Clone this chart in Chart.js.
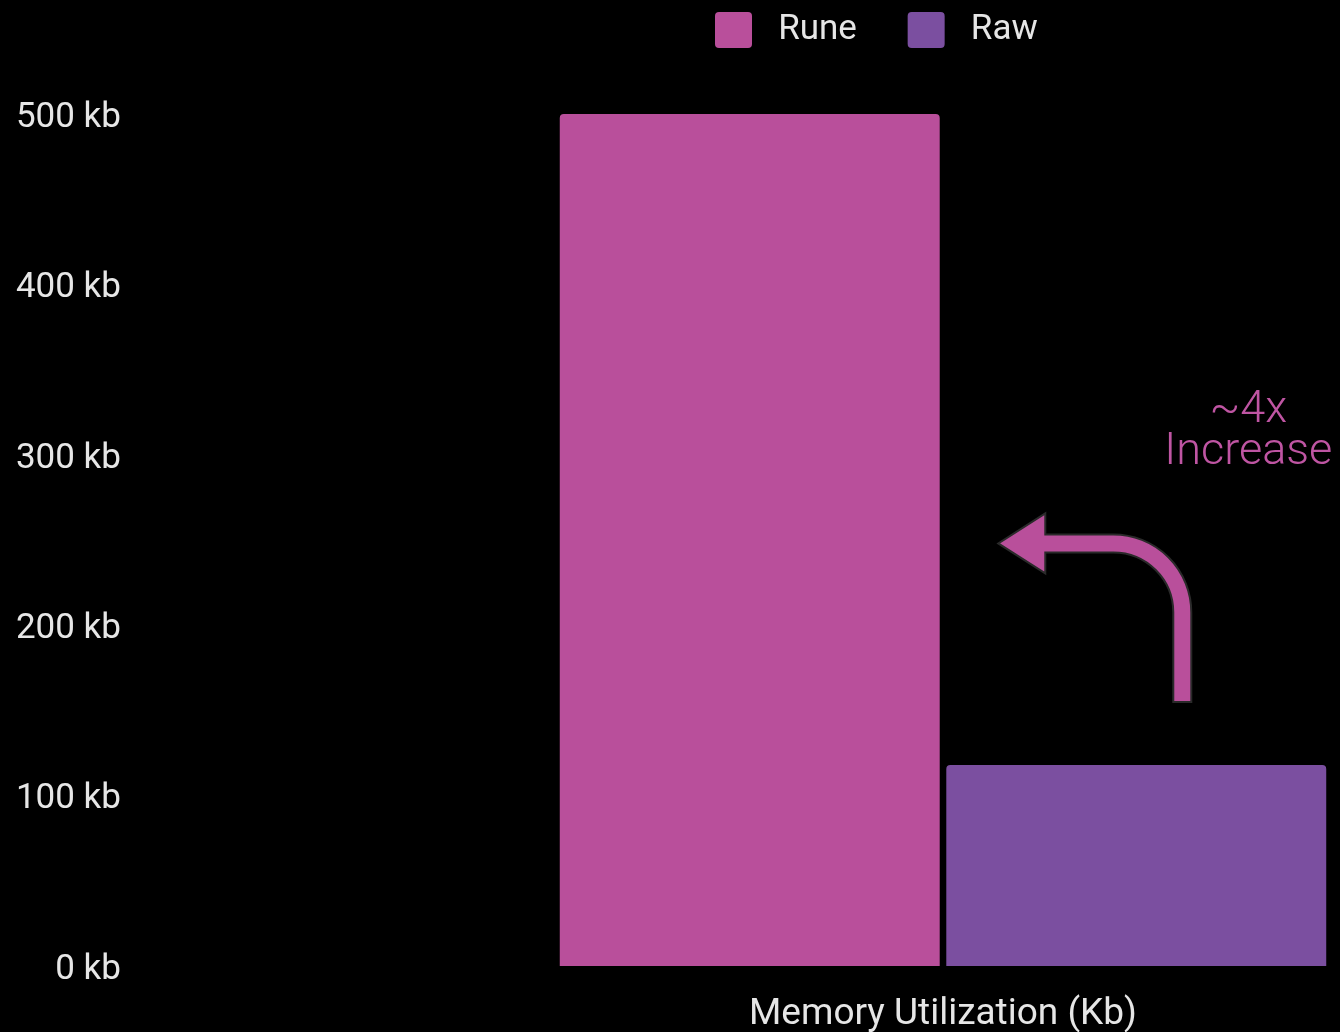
<!DOCTYPE html>
<html>
<head>
<meta charset="utf-8">
<title>Memory Utilization</title>
<script src="https://cdn.jsdelivr.net/npm/chart.js@4/dist/chart.umd.min.js"></script>
<style>
  html, body { margin: 0; padding: 0; background: #000; }
  canvas { display: block; }
</style>
</head>
<body>
<canvas id="memChart" width="1340" height="1032"></canvas>
<script>
// chart data
const categories = ['Memory Utilization (Kb)'];
const seriesNames = ['Rune', 'Raw'];
const runeValues = [500];
const rawValues = [118];
const yTicks = [0, 100, 200, 300, 400, 500];
const noteLines = ['~4x', 'Increase'];

const PINK = '#b94f9b';
const PURPLE = '#7b4fa0';
const TEXT = '#e6e6e6';

// curved "increase" arrow plus caption, placed next to the Raw bar
const arrowNote = {
    id: 'arrowNote',
    afterDatasetsDraw(chart) {
        const ctx = chart.ctx;
        const bar = chart.getDatasetMeta(1).data[0];
        const y = chart.scales.y;
        const left = bar.x - bar.width / 2;

        const sx = left + 236;      // vertical shaft
        const cx = left + 167;      // centre of the bend
        const yBase = y.getPixelForValue(155);
        const yTop = y.getPixelForValue(248);
        const r = sx - cx;
        const half = 9;
        const headX = left + 99;
        const tipX = left + 52;
        const headHalf = 30;

        ctx.save();
        ctx.beginPath();
        ctx.moveTo(sx + half, yBase);
        ctx.lineTo(sx + half, yTop + r);
        ctx.arc(cx, yTop + r, r + half, 0, -Math.PI / 2, true);
        ctx.lineTo(headX, yTop - half);
        ctx.lineTo(headX, yTop - headHalf);
        ctx.lineTo(tipX, yTop);
        ctx.lineTo(headX, yTop + headHalf);
        ctx.lineTo(headX, yTop + half);
        ctx.lineTo(cx, yTop + half);
        ctx.arc(cx, yTop + r, r - half, -Math.PI / 2, 0, false);
        ctx.lineTo(sx - half, yBase);
        ctx.closePath();
        ctx.fillStyle = PINK;
        ctx.fill();
        ctx.lineWidth = 2;
        ctx.strokeStyle = '#2a2a2a';
        ctx.stroke();

        ctx.fillStyle = '#bf55a3';
        ctx.font = '300 45px Roboto';
        ctx.textAlign = 'center';
        ctx.textBaseline = 'middle';
        const tx = left + 302;
        ctx.fillText(noteLines[0], tx, y.getPixelForValue(326));
        ctx.fillText(noteLines[1], tx, y.getPixelForValue(301));
        ctx.restore();
    }
};

// legend row sits at the very top, starting a little right of the plot's left edge
const legendShift = {
    id: 'legendShift',
    afterLayout(chart) {
        const lg = chart.legend;
        const pad = lg.options.labels.padding;
        const start = (lg.left + pad + lg.right - lg.lineWidths[0]) / 2;
        const dx = chart.chartArea.left + 169 - start;
        const dy = 12 - pad - lg.top;
        lg.left += dx;
        lg.right += dx;
        lg.top += dy;
        lg.bottom += dy;
    }
};

const ctx = document.getElementById('memChart').getContext('2d');
new Chart(ctx, {
    type: 'bar',
    data: {
        labels: categories,
        datasets: [
            { label: seriesNames[0], data: runeValues, backgroundColor: PINK },
            { label: seriesNames[1], data: rawValues, backgroundColor: PURPLE }
        ]
    },
    options: {
        responsive: false,
        animation: false,
        layout: { padding: 0 },
        datasets: {
            bar: {
                borderRadius: 4,
                borderWidth: 0,
                barPercentage: 0.983,
                categoryPercentage: 0.9736
            }
        },
        plugins: {
            tooltip: { enabled: false },
            legend: {
                position: 'top',
                labels: {
                    color: TEXT,
                    font: { family: 'Roboto', size: 35 },
                    boxWidth: 37,
                    boxHeight: 36,
                    padding: 16,
                    useBorderRadius: true,
                    borderRadius: 4,
                    generateLabels(chart) {
                        const items = Chart.defaults.plugins.legend.labels.generateLabels(chart);
                        return items.map(it => ({ ...it, text: ' ' + it.text + '    ' }));
                    }
                }
            }
        },
        scales: {
            x: {
                grid: { display: false, drawTicks: false },
                border: { display: false },
                ticks: {
                    color: TEXT,
                    font: { family: 'Roboto', size: 37 },
                    padding: 27
                },
                afterFit(s) { s.height = 66; }
            },
            y: {
                min: yTicks[0],
                max: yTicks[yTicks.length - 1],
                grid: { display: false, drawTicks: false },
                border: { display: false },
                ticks: {
                    stepSize: yTicks[1] - yTicks[0],
                    color: TEXT,
                    font: { family: 'Roboto', size: 35 },
                    padding: 425,
                    labelOffset: 4,
                    callback: v => v + ' kb'
                },
                // wide gutter; labels sit at the far left
                afterFit(s) {
                    s.width = 546;
                    s.paddingTop = 114;
                    s.paddingBottom = 20;
                }
            }
        }
    },
    plugins: [arrowNote, legendShift]
});
</script>
</body>
</html>
